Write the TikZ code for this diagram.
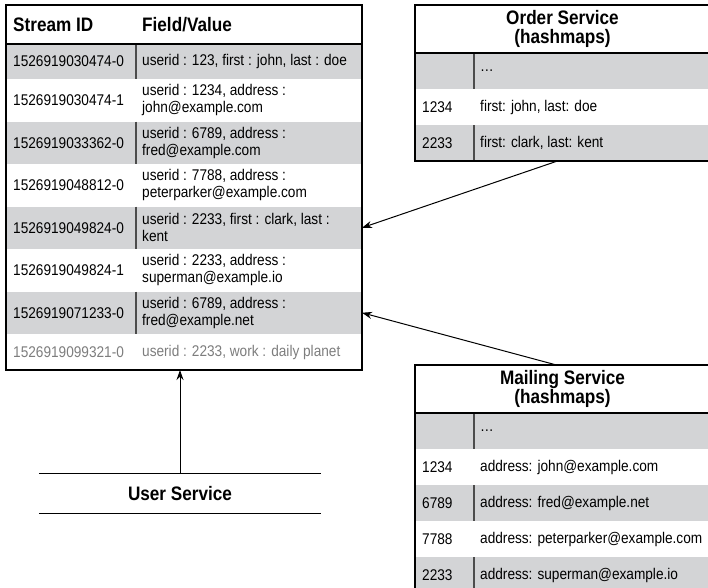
\documentclass[tikz,border=0pt]{standalone}
\usepackage{fontspec}
\setmainfont{Liberation Sans}[FakeStretch=0.88]
\usetikzlibrary{arrows.meta}
\definecolor{rowgray}{RGB}{211,212,214}
\definecolor{fadedtext}{RGB}{125,125,125}
\begin{document}
\begin{tikzpicture}[x=1pt,y=-1pt,
	tablebox/.style={rectangle, draw=black, line width=1.4pt, inner sep=0pt, outer sep=0pt},
	grayrow/.style={rectangle, fill=rowgray, inner sep=0pt, outer sep=0pt,
		path picture={\draw[black!70, line width=1.3pt] ([xshift=#1]path picture bounding box.north west) -- ([xshift=#1]path picture bounding box.south west);}},
	whiterow/.style={rectangle, inner sep=0pt, outer sep=0pt},
	cell/.style={anchor=west, inner sep=0pt, align=left, font=\fontsize{15.5}{17}\selectfont},
	title/.style={inner sep=0pt, align=center, font=\bfseries\fontsize{19.5}{19}\selectfont},
	>={Stealth[length=10pt,width=7pt]}]
	
	\useasboundingbox (0,0) rectangle (708,587);
	
	%Stream table
	\node[whiterow, minimum width=356, minimum height=39]	(head)	at (184,24.5) {};
	\node[grayrow=130pt, minimum width=356, minimum height=35]	(r1)	at (184,61.5) {};
	\node[whiterow, minimum width=356, minimum height=42.5]	(r2)	at (184,100.25) {};
	\node[grayrow=130pt, minimum width=356, minimum height=42.5]	(r3)	at (184,142.75) {};
	\node[whiterow, minimum width=356, minimum height=42.5]	(r4)	at (184,185.25) {};
	\node[grayrow=130pt, minimum width=356, minimum height=42.5]	(r5)	at (184,227.75) {};
	\node[whiterow, minimum width=356, minimum height=42.5]	(r6)	at (184,270.25) {};
	\node[grayrow=130pt, minimum width=356, minimum height=42.5]	(r7)	at (184,312.75) {};
	\node[whiterow, minimum width=356, minimum height=36]	(r8)	at (184,352) {};
	\node[tablebox, minimum width=356, minimum height=365]	(stream)	at (184,187.5) {};
	\draw[line width=1.4pt] (head.south west) -- (head.south east);
	
	\node[title, anchor=west]	(sid)	at ([xshift=7pt]head.west) {Stream ID};
	\node[title, anchor=west]	(fv)	at ([xshift=136pt]head.west) {Field/Value};
	\node[cell]	(id1)	at ([xshift=7pt]r1.west) {1526919030474-0};
	\node[cell]	(v1)	at ([xshift=136pt]r1.west) {userid : 123, first : john, last : doe};
	\node[cell]	(id2)	at ([xshift=7pt]r2.west) {1526919030474-1};
	\node[cell]	(v2)	at ([xshift=136pt]r2.west) {userid : 1234, address :\\john@example.com};
	\node[cell]	(id3)	at ([xshift=7pt]r3.west) {1526919033362-0};
	\node[cell]	(v3)	at ([xshift=136pt]r3.west) {userid : 6789, address :\\fred@example.com};
	\node[cell]	(id4)	at ([xshift=7pt]r4.west) {1526919048812-0};
	\node[cell]	(v4)	at ([xshift=136pt]r4.west) {userid : 7788, address :\\peterparker@example.com};
	\node[cell]	(id5)	at ([xshift=7pt]r5.west) {1526919049824-0};
	\node[cell]	(v5)	at ([xshift=136pt]r5.west) {userid : 2233, first : clark, last :\\kent};
	\node[cell]	(id6)	at ([xshift=7pt]r6.west) {1526919049824-1};
	\node[cell]	(v6)	at ([xshift=136pt]r6.west) {userid : 2233, address :\\superman@example.io};
	\node[cell]	(id7)	at ([xshift=7pt]r7.west) {1526919071233-0};
	\node[cell]	(v7)	at ([xshift=136pt]r7.west) {userid : 6789, address :\\fred@example.net};
	\node[cell, text=fadedtext]	(id8)	at ([xshift=7pt]r8.west) {1526919099321-0};
	\node[cell, text=fadedtext]	(v8)	at ([xshift=136pt]r8.west) {userid : 2233, work : daily planet};
	
	%Order Service table
	\node[whiterow, minimum width=295, minimum height=48]	(ohead)	at (562.5,29) {};
	\node[grayrow=59pt, minimum width=295, minimum height=36]	(o1)	at (562.5,71) {};
	\node[whiterow, minimum width=295, minimum height=36]	(o2)	at (562.5,107) {};
	\node[grayrow=59pt, minimum width=295, minimum height=36]	(o3)	at (562.5,143) {};
	\node[tablebox, minimum width=295, minimum height=156]	(order)	at (562.5,83) {};
	\draw[line width=1.4pt] (ohead.south west) -- (ohead.south east);
	
	\node[title]	(otitle)	at (ohead) {Order Service\\(hashmaps)};
	\node[cell]	(ov1)	at ([xshift=65pt]o1.west) {\dots};
	\node[cell]	(ok2)	at ([xshift=7pt]o2.west) {1234};
	\node[cell]	(ov2)	at ([xshift=65pt]o2.west) {first: john, last: doe};
	\node[cell]	(ok3)	at ([xshift=7pt]o3.west) {2233};
	\node[cell]	(ov3)	at ([xshift=65pt]o3.west) {first: clark, last: kent};
	
	%Mailing Service table
	\node[whiterow, minimum width=295, minimum height=48]	(mhead)	at (562.5,389) {};
	\node[grayrow=59pt, minimum width=295, minimum height=36]	(m1)	at (562.5,431) {};
	\node[whiterow, minimum width=295, minimum height=36]	(m2)	at (562.5,467) {};
	\node[grayrow=59pt, minimum width=295, minimum height=36]	(m3)	at (562.5,503) {};
	\node[whiterow, minimum width=295, minimum height=36]	(m4)	at (562.5,539) {};
	\node[grayrow=59pt, minimum width=295, minimum height=36]	(m5)	at (562.5,575) {};
	\node[tablebox, minimum width=295, minimum height=228]	(mail)	at (562.5,479) {};
	\draw[line width=1.4pt] (mhead.south west) -- (mhead.south east);
	
	\node[title]	(mtitle)	at (mhead) {Mailing Service\\(hashmaps)};
	\node[cell]	(mv1)	at ([xshift=65pt]m1.west) {\dots};
	\node[cell]	(mk2)	at ([xshift=7pt]m2.west) {1234};
	\node[cell]	(mv2)	at ([xshift=65pt]m2.west) {address: john@example.com};
	\node[cell]	(mk3)	at ([xshift=7pt]m3.west) {6789};
	\node[cell]	(mv3)	at ([xshift=65pt]m3.west) {address: fred@example.net};
	\node[cell]	(mk4)	at ([xshift=7pt]m4.west) {7788};
	\node[cell]	(mv4)	at ([xshift=65pt]m4.west) {address: peterparker@example.com};
	\node[cell]	(mk5)	at ([xshift=7pt]m5.west) {2233};
	\node[cell]	(mv5)	at ([xshift=65pt]m5.west) {address: superman@example.io};
	
	%User Service
	\node[title, minimum width=282, minimum height=39]	(user)	at (180,493.5) {User Service};
	\draw[line width=1pt] (user.north west) -- (user.north east);
	\draw[line width=1pt] (user.south west) -- (user.south east);
	
	%Lines
	\draw[black, line width=1pt, ->] (user.north) -- (user.north |- stream.south);
	\draw[black, line width=1pt, ->] ([xshift=-5pt]order.south) -- (r5.east);
	\draw[black, line width=1pt, ->] ([xshift=-6pt]mail.north) -- (r7.east);
\end{tikzpicture}
\end{document}
